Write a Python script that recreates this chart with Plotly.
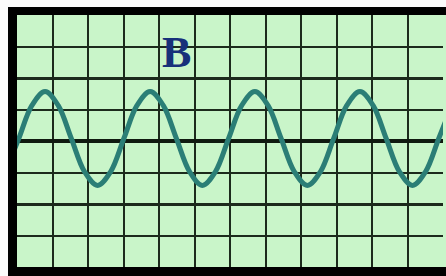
import plotly.graph_objects as go

# Waveform samples (x in horizontal divisions, y in vertical divisions)
wave_x = [-0.32, 0.05, 0.42, 0.79, 1.16, 1.53, 1.90, 2.27, 2.64, 3.01, 3.38, 3.75, 4.12,
          4.49, 4.86, 5.22, 5.59, 5.96, 6.33, 6.70, 7.07, 7.44, 7.81, 8.18, 8.55,
          8.92, 9.29, 9.66, 10.03, 10.40, 10.77, 11.14, 11.51, 11.88, 12.25]
wave_y = [-0.97, 0.08, 1.13, 1.57, 1.13, 0.08, -0.97, -1.41, -0.97, 0.08, 1.13, 1.57, 1.13,
          0.08, -0.97, -1.41, -0.97, 0.08, 1.13, 1.57, 1.13, 0.08, -0.97, -1.41, -0.97,
          0.08, 1.13, 1.57, 1.13, 0.08, -0.97, -1.41, -0.97, 0.08, 1.13]
label_text = "B"
x_divisions = [0, 12]
y_divisions = [-4, 4]

W, H = 446, 276
ML, MR, MT, MB = 17, 3, 15, 9
PW, PH = W - ML - MR, H - MT - MB

GRID = "#1c2a1c"
BG = "#c9f5c9"

fig = go.Figure()
fig.add_trace(go.Scatter(x=wave_x, y=wave_y, mode="lines",
                         line=dict(color="#2b7e76", width=5, shape="spline", smoothing=1.0),
                         hoverinfo="skip", showlegend=False))

def px_x(p):
    return (p - ML) / PW

def px_y(p):
    return (H - MB - p) / PH

shapes = [
    # top black band
    dict(type="rect", xref="paper", yref="paper", x0=px_x(8), x1=px_x(W + 5), y0=px_y(15), y1=px_y(7),
         fillcolor="black", line_width=0, layer="above"),
    # left black band
    dict(type="rect", xref="paper", yref="paper", x0=px_x(8), x1=px_x(17), y0=px_y(H + 5), y1=px_y(7),
         fillcolor="black", line_width=0, layer="above"),
    # bottom black band
    dict(type="rect", xref="paper", yref="paper", x0=px_x(8), x1=px_x(W + 5), y0=px_y(H + 5), y1=px_y(267),
         fillcolor="black", line_width=0, layer="above"),
    # right light strip
    dict(type="rect", xref="paper", yref="paper", x0=1, x1=px_x(W + 5), y0=0, y1=1,
         fillcolor=BG, line_width=0, layer="below"),
]

fig.update_layout(
    width=W, height=H,
    margin=dict(l=ML, r=MR, t=MT, b=MB, pad=0),
    paper_bgcolor="#fbfbfb",
    plot_bgcolor=BG,
    shapes=shapes,
    xaxis=dict(range=x_divisions, dtick=1, tick0=0, showgrid=True, gridcolor=GRID, gridwidth=2,
               zeroline=False, showticklabels=False, ticks="", showline=False, fixedrange=True),
    yaxis=dict(range=y_divisions, dtick=2, tick0=0, showgrid=True, gridcolor=GRID, gridwidth=3,
               minor=dict(dtick=1, tick0=0, showgrid=True, gridcolor=GRID, gridwidth=2),
               zeroline=True, zerolinecolor="#101a10", zerolinewidth=4,
               showticklabels=False, ticks="", showline=False, fixedrange=True),
    annotations=[dict(text="<b>" + label_text + "</b>", xref="paper", yref="paper",
                      x=px_x(176), y=px_y(52), xanchor="center", yanchor="middle",
                      showarrow=False,
                      font=dict(family="Liberation Serif", size=44, color="#17307a"))],
)

fig.write_html("out.html", config={"displayModeBar": False, "staticPlot": True},
               post_script="document.body.style.margin='0px';document.body.style.overflow='hidden';")
